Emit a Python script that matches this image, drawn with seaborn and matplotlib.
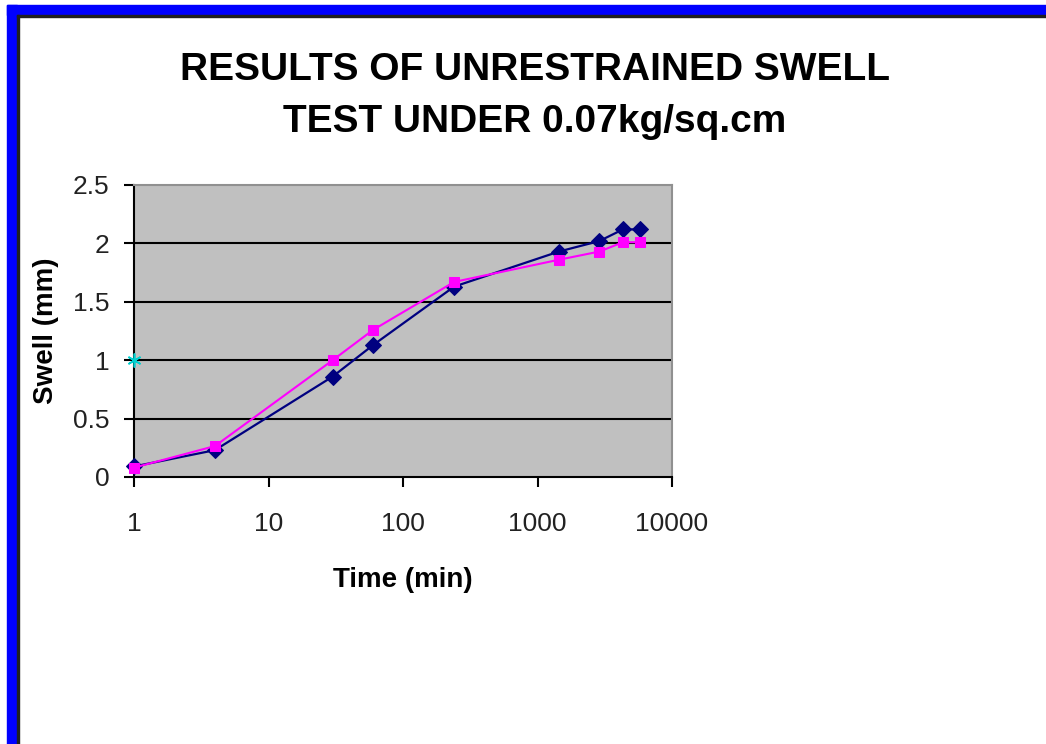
import matplotlib
matplotlib.use("Agg")
import matplotlib.pyplot as plt
import seaborn as sns
import pandas as pd
from matplotlib.patches import Rectangle
from matplotlib.ticker import FixedLocator, NullLocator

time_min = [1, 4, 30, 60, 240, 1440, 2880, 4320, 5760]
swell_a = [0.09, 0.23, 0.86, 1.13, 1.63, 1.93, 2.02, 2.12, 2.12]
swell_b = [0.08, 0.265, 1.00, 1.26, 1.67, 1.86, 1.93, 2.01, 2.01]
extra_time = [1]
extra_swell = [1.0]
x_ticks = [1, 10, 100, 1000, 10000]
x_labels = ["1", "10", "100", "1000", "10000"]
y_ticks = [0, 0.5, 1, 1.5, 2, 2.5]
y_labels = ["0", "0.5", "1", "1.5", "2", "2.5"]

sns.set_style("white")
plt.rcParams['font.family'] = ['Liberation Sans', 'DejaVu Sans']

fig = plt.figure(figsize=(10.46, 7.44), dpi=100)
fig.patch.set_facecolor("white")
W, H = 1046, 744
# blue window border
fig.patches.append(Rectangle((7 / W, 0), 10 / W, 1 - 5 / H, transform=fig.transFigure, color="#0000FF", zorder=0))
fig.patches.append(Rectangle((7 / W, 1 - 15 / H), 1, 10 / H, transform=fig.transFigure, color="#0000FF", zorder=0))
fig.patches.append(Rectangle((17 / W, 0), 1.5 / W, 1 - 15 / H, transform=fig.transFigure, color="#202020", zorder=0))
fig.patches.append(Rectangle((17 / W, 1 - 16.5 / H), 1, 1.5 / H, transform=fig.transFigure, color="#202020", zorder=0))

ax = fig.add_axes([134 / W, 1 - 477 / H, 538 / W, 292 / H])
ax.set_facecolor("#C0C0C0")

df_a = pd.DataFrame({"t": time_min, "s": swell_a})
df_b = pd.DataFrame({"t": time_min, "s": swell_b})
for y in y_ticks[1:-1]:
    ax.axhline(y, color="black", lw=1.5, zorder=1)

sns.lineplot(data=df_a, x="t", y="s", ax=ax, color="#000080", marker="D", markersize=8,
             markeredgecolor="#000080", lw=1.6, zorder=3, clip_on=False)
sns.lineplot(data=df_b, x="t", y="s", ax=ax, color="#FF00FF", marker="s", markersize=6.5,
             markeredgecolor="#FF00FF", lw=1.5, zorder=4, clip_on=False)
ax.plot(extra_time, extra_swell, linestyle="none", marker=(6, 2, 0), markersize=10,
        markeredgecolor="#00D0D0", markeredgewidth=1.2, zorder=6, clip_on=False)

ax.set_xscale("log")
ax.set_xlim(1, 10000)
ax.set_ylim(0, 2.5)
ax.xaxis.set_major_locator(FixedLocator(x_ticks))
ax.xaxis.set_minor_locator(NullLocator())
ax.set_xticklabels(x_labels)
ax.set_yticks(y_ticks)
ax.set_yticklabels(y_labels)
ax.tick_params(axis="both", direction="out", length=7.5, width=1.5, color="black",
               labelsize=19, labelcolor="#222222")
ax.tick_params(axis="y", pad=10)
ax.tick_params(axis="x", pad=18)
ax.tick_params(left=True, bottom=True)

for s in ["left", "bottom"]:
    ax.spines[s].set_color("black")
    ax.spines[s].set_linewidth(1.5)
for s in ["top", "right"]:
    ax.spines[s].set_color("#909090")
    ax.spines[s].set_linewidth(1.5)

ax.set_xlabel("Time (min)", fontsize=20, fontweight="bold", labelpad=22, color="black")
ax.set_ylabel("Swell (mm)", fontsize=20, fontweight="bold", labelpad=10, color="black")

fig.text(535 / W, 1 - 80 / H, "RESULTS OF UNRESTRAINED SWELL",
         ha="center", va="baseline", fontsize=28, fontweight="bold", color="black")
fig.text(535 / W, 1 - 132 / H, "TEST UNDER 0.07kg/sq.cm",
         ha="center", va="baseline", fontsize=28, fontweight="bold", color="black")

fig.savefig("out.png", dpi=100)
